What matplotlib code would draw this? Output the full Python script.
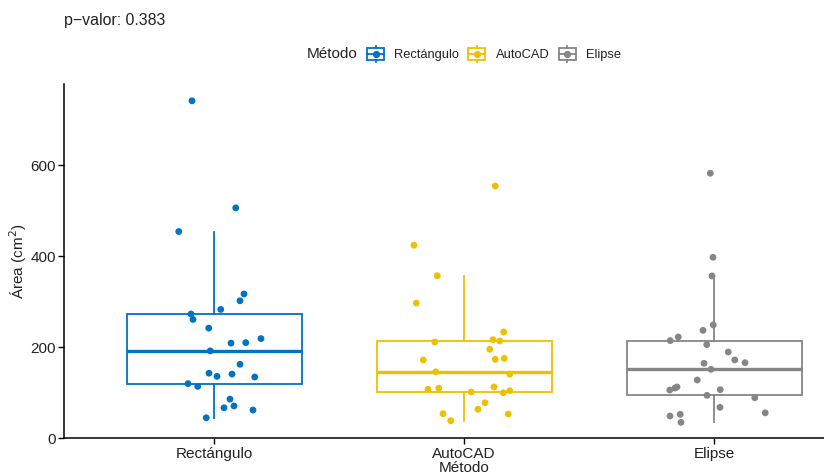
import matplotlib.pyplot as plt
from matplotlib.legend_handler import HandlerBase
from matplotlib.patches import Rectangle
from matplotlib.lines import Line2D

plt.rcParams["font.family"] = ["Liberation Sans", "DejaVu Sans"]

# Data
metodos = ["Rectángulo", "AutoCAD", "Elipse"]
colores = ["#0073C2", "#EFC000", "#868686"]

area_rect = [741, 506, 454, 317, 302, 283, 273, 261, 242, 219, 209, 210, 192,
             162.5, 143, 136, 141, 134.6, 120, 114, 86, 67, 71, 62, 45]
area_autocad = [554, 424, 357, 297, 233.5, 211.5, 216.6, 213.7, 195.5, 172, 173.5,
                175.7, 146, 141, 107.6, 110, 101.7, 112.7, 100, 104.5, 78, 63.7,
                54, 53.4, 38.7]
area_elipse = [582, 397.5, 356.5, 249, 237, 222.5, 214.5, 205.7, 189.5, 172, 166,
               164.6, 151.5, 128, 112.7, 110.5, 106, 106.8, 94.4, 89, 68, 56, 49,
               52.7, 35]

# horizontal jitter offsets (category units) as seen in the picture
jit_rect = [-0.088, 0.087, -0.141, 0.12, 0.104, 0.027, -0.092, -0.084, -0.021,
            0.188, 0.068, 0.127, -0.015, 0.104, -0.02, 0.012, 0.072, 0.163,
            -0.104, -0.065, 0.064, 0.04, 0.08, 0.156, -0.031]
jit_autocad = [0.125, -0.2, -0.107, -0.191, 0.159, -0.117, 0.116, 0.143, 0.103,
               -0.163, 0.125, 0.161, -0.113, 0.183, -0.144, -0.101, 0.029, 0.12,
               0.157, 0.183, 0.084, 0.056, -0.084, 0.177, -0.053]
jit_elipse = [-0.015, -0.004, -0.008, -0.003, -0.044, -0.143, -0.175, -0.029,
              0.057, 0.083, 0.124, -0.04, -0.012, -0.067, -0.148, -0.156, -0.177,
              0.025, -0.028, 0.163, 0.024, 0.205, -0.176, -0.135, -0.132]

p_valor = 0.383

datos = [area_rect, area_autocad, area_elipse]
jitters = [jit_rect, jit_autocad, jit_elipse]


class HandlerBoxKey(HandlerBase):
    # little boxplot glyph like ggplot's legend key
    def create_artists(self, legend, orig_handle, xdescent, ydescent,
                       width, height, fontsize, trans):
        c = orig_handle.get_color()
        x0 = -xdescent
        y0 = -ydescent
        cx = x0 + width / 2
        h = height
        box = Rectangle((x0, y0 + h * 0.15), width, h * 0.7,
                        facecolor="white", edgecolor=c, lw=1.3, transform=trans)
        w1 = Line2D([cx, cx], [y0, y0 + h * 0.15], color=c, lw=1.3, transform=trans)
        w2 = Line2D([cx, cx], [y0 + h * 0.85, y0 + h], color=c, lw=1.3, transform=trans)
        med = Line2D([x0, x0 + width], [y0 + h / 2, y0 + h / 2],
                     color=c, lw=1.3, transform=trans)
        dot = Line2D([cx], [y0 + h / 2], marker="o", ms=4.2, color=c, lw=0, transform=trans)
        return [box, w1, w2, med, dot]


fig = plt.figure(figsize=(8.24, 4.73), dpi=100)
ax = fig.add_axes([64 / 824, 34.7 / 473, 800 / 824, 354.3 / 473])

pos = [1, 2, 3]
for i, (vals, col) in enumerate(zip(datos, colores)):
    ax.boxplot([vals], positions=[pos[i]], widths=0.7, whis=1.5, showfliers=False,
               showcaps=False, patch_artist=True,
               boxprops=dict(facecolor="white", edgecolor=col, linewidth=1.3),
               whiskerprops=dict(color=col, linewidth=1.3),
               medianprops=dict(color=col, linewidth=2.4),
               zorder=2)
    xs = [pos[i] + j for j in jitters[i]]
    ax.scatter(xs, vals, s=24, color=col, edgecolors="none", zorder=3)

ax.set_xlim(0.4, 3.6)
ax.set_ylim(0, 778)
ax.set_xticks(pos)
ax.set_xticklabels(metodos)
ax.set_yticks([0, 200, 400, 600])
ax.tick_params(axis="both", labelsize=11, length=4, width=1, color="black",
               labelcolor="#222222", direction="out", pad=2)
for s in ["top", "right"]:
    ax.spines[s].set_visible(False)
for s in ["left", "bottom"]:
    ax.spines[s].set_linewidth(1.1)
ax.set_xlabel("Método", fontsize=11, color="#222222", labelpad=0)
ax.set_ylabel("Área (cm$^2$)", fontsize=11, color="#222222", labelpad=1)

fig.text(64 / 824, 1 - 20 / 473, "p−valor: " + str(p_valor), fontsize=11.4,
         color="#222222", va="center", ha="left")

# legend: title on the left, keys in one row
fig.text(358 / 824, 1 - 54 / 473, "Método", fontsize=11, color="#222222",
         va="center", ha="right")
handles = [Line2D([], [], color=c) for c in colores]
leg = fig.legend(handles, metodos, loc="center left",
                 bbox_to_anchor=(367 / 824, 1 - 54 / 473), ncol=3, frameon=False,
                 fontsize=9.3, handler_map={Line2D: HandlerBoxKey()},
                 handlelength=1.32, handleheight=1.55, handletextpad=0.8,
                 columnspacing=0.7, borderpad=0, borderaxespad=0)
for t in leg.get_texts():
    t.set_color("#222222")

fig.savefig("out.png", dpi=100)
